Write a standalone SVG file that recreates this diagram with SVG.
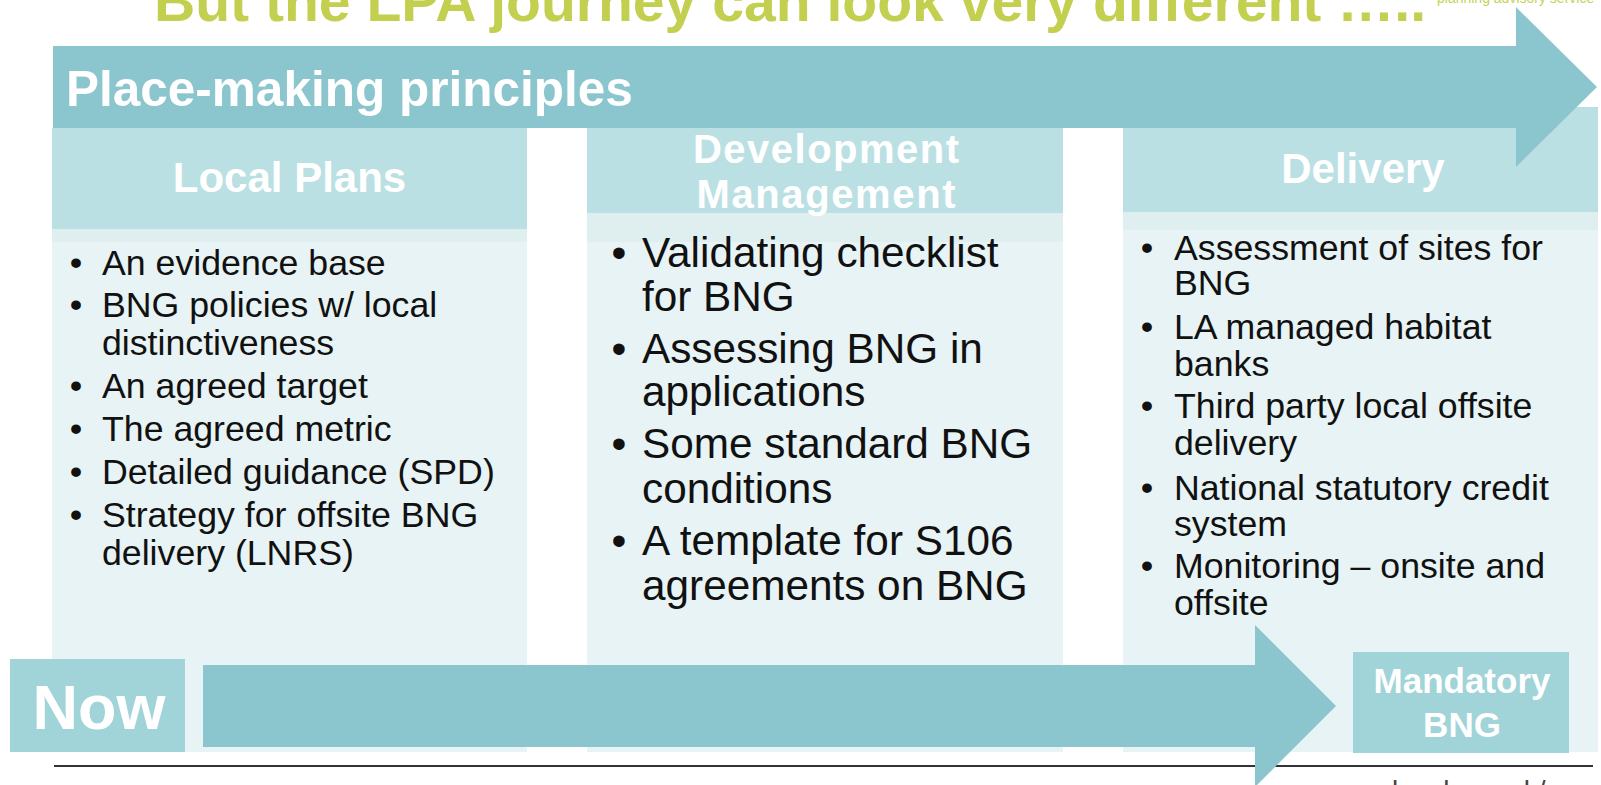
<svg xmlns="http://www.w3.org/2000/svg" width="1601" height="785" viewBox="0 0 1601 785">
  <style>
    .title { font-family: "Liberation Sans", Arial, sans-serif; font-weight: bold; fill: #c2cf4f; }
    .tag { font-family: "Liberation Sans", Arial, sans-serif; fill: #c5d35a; }
    .arrow { fill: #8bc5cd; }
    .head { fill: #bbe0e3; }
    .body { fill: #e7f3f4; }
    .band { fill: #dfeff0; }
    .box { fill: #a0d4d8; }
    .hd { font-family: "Liberation Sans", Arial, sans-serif; font-weight: bold; fill: #ffffff; text-anchor: middle; }
    .banner { font-family: "Liberation Sans", Arial, sans-serif; font-weight: bold; fill: #ffffff; font-size: 49.5px; }
    .li { font-family: "Liberation Sans", Arial, sans-serif; fill: #111111; }
    .s35 { font-size: 35.7px; }
    .s42 { font-size: 42.3px; }
    .bul { text-anchor: middle; }
    .foot { font-family: "Liberation Sans", Arial, sans-serif; font-size: 28px; fill: #444444; }
  </style>

  <rect width="1601" height="785" fill="#ffffff"/>

  <!-- heading strip -->
  <g id="title">
    <text class="title" x="154" y="20.5" font-size="57" textLength="1272" lengthAdjust="spacingAndGlyphs">But the LPA journey can look very different …..</text>
    <text class="tag" x="1437" y="2.5" font-size="14">planning advisory service</text>
  </g>

  <!-- column 1 -->
  <g id="local-plans">
    <rect class="body" x="52" y="229" width="475" height="523"/>
    <rect class="band" x="52" y="229" width="475" height="13"/>
    <rect class="head" x="52" y="128" width="475" height="101"/>
    <text class="hd" x="289.5" y="192" font-size="42">Local Plans</text>
    <g class="li s35">
      <text class="bul" x="76" y="275">•</text>
      <text class="bul" x="76" y="317">•</text>
      <text class="bul" x="76" y="398">•</text>
      <text class="bul" x="76" y="441">•</text>
      <text class="bul" x="76" y="484">•</text>
      <text class="bul" x="76" y="527">•</text>
      <text x="102" y="275">An evidence base</text>
      <text x="102" y="317">BNG policies w/ local</text>
      <text x="102" y="355">distinctiveness</text>
      <text x="102" y="398">An agreed target</text>
      <text x="102" y="441">The agreed metric</text>
      <text x="102" y="484">Detailed guidance (SPD)</text>
      <text x="102" y="527">Strategy for offsite BNG</text>
      <text x="102" y="565">delivery (LNRS)</text>
    </g>
  </g>

  <!-- column 2 -->
  <g id="development-management">
    <rect class="body" x="587" y="213" width="476" height="539"/>
    <rect class="band" x="587" y="213" width="476" height="29"/>
    <rect class="head" x="587" y="128" width="476" height="85"/>
    <text class="hd" x="826" y="163" font-size="40" textLength="266" lengthAdjust="spacing">Development</text>
    <text class="hd" x="826" y="208" font-size="40" textLength="259" lengthAdjust="spacing">Management</text>
    <g class="li s42">
      <text class="bul" x="619" y="267">•</text>
      <text class="bul" x="619" y="363">•</text>
      <text class="bul" x="619" y="458">•</text>
      <text class="bul" x="619" y="555">•</text>
      <text x="642" y="267">Validating checklist</text>
      <text x="642" y="311">for BNG</text>
      <text x="642" y="363">Assessing BNG in</text>
      <text x="642" y="406">applications</text>
      <text x="642" y="458">Some standard BNG</text>
      <text x="642" y="503">conditions</text>
      <text x="642" y="555">A template for S106</text>
      <text x="642" y="600">agreements on BNG</text>
    </g>
  </g>

  <!-- column 3 -->
  <g id="delivery">
    <rect class="body" x="1123" y="212" width="475" height="540"/>
    <rect class="band" x="1123" y="212" width="475" height="18"/>
    <rect class="head" x="1123" y="107" width="475" height="105"/>
    <text class="hd" x="1363" y="183" font-size="42">Delivery</text>
    <g class="li s35">
      <text class="bul" x="1147" y="260">•</text>
      <text class="bul" x="1147" y="339">•</text>
      <text class="bul" x="1147" y="418">•</text>
      <text class="bul" x="1147" y="500">•</text>
      <text class="bul" x="1147" y="578">•</text>
      <text x="1174" y="260">Assessment of sites for</text>
      <text x="1174" y="295">BNG</text>
      <text x="1174" y="339">LA managed habitat</text>
      <text x="1174" y="376">banks</text>
      <text x="1174" y="418">Third party local offsite</text>
      <text x="1174" y="455">delivery</text>
      <text x="1174" y="500">National statutory credit</text>
      <text x="1174" y="536">system</text>
      <text x="1174" y="578">Monitoring – onsite and</text>
      <text x="1174" y="615">offsite</text>
    </g>
  </g>

  <!-- banner arrow across the top -->
  <g id="place-making">
    <polygon class="arrow" points="53,46 1516,46 1516,7 1597,87 1516,167 1516,128 53,128"/>
    <text class="banner" x="66" y="106">Place-making principles</text>
  </g>

  <!-- footer rule -->
  <g id="footer">
    <line x1="54" y1="766" x2="1593" y2="766" stroke="#333333" stroke-width="2"/>
    <text class="foot" x="1392" y="800">local.gov.uk/pas</text>
  </g>

  <g id="connectors">
    <polygon class="arrow" points="203,665 1255,665 1255,625 1336,706 1255,787 1255,747 203,747"/>
  </g>

  <g id="now">
    <rect class="box" x="10" y="659" width="175" height="93"/>
    <text class="hd" x="99" y="729" font-size="63">Now</text>
  </g>

  <g id="mandatory-bng">
    <rect class="box" x="1353" y="652" width="216" height="101"/>
    <text class="hd" x="1462" y="693" font-size="35">Mandatory</text>
    <text class="hd" x="1462" y="737" font-size="35">BNG</text>
  </g>
</svg>
